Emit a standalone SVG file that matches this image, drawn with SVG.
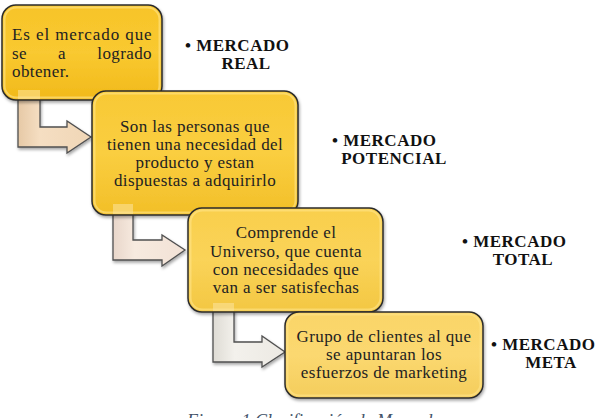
<svg xmlns="http://www.w3.org/2000/svg" width="609" height="418" viewBox="0 0 609 418" font-family="'Liberation Serif', 'Times New Roman', serif">
<defs>
<filter id="sh" x="-10%" y="-10%" width="120%" height="130%">
<feDropShadow dx="1" dy="2" stdDeviation="1.5" flood-color="#000" flood-opacity="0.35"/>
</filter>
<linearGradient id="g1" x1="0" y1="0" x2="0" y2="1">
<stop offset="0" stop-color="#F7C42A"/><stop offset="0.5" stop-color="#F9C930"/><stop offset="1" stop-color="#F1B91A"/>
</linearGradient>
<linearGradient id="g2" x1="0" y1="0" x2="0" y2="1">
<stop offset="0" stop-color="#F8C935"/><stop offset="0.5" stop-color="#FACE40"/><stop offset="1" stop-color="#F2BF28"/>
</linearGradient>
<linearGradient id="g3" x1="0" y1="0" x2="0" y2="1">
<stop offset="0" stop-color="#F9CF4C"/><stop offset="0.5" stop-color="#FAD358"/><stop offset="1" stop-color="#F3C742"/>
</linearGradient>
<linearGradient id="g4" x1="0" y1="0" x2="0" y2="1">
<stop offset="0" stop-color="#FAD568"/><stop offset="0.5" stop-color="#FBD870"/><stop offset="1" stop-color="#F4CD5C"/>
</linearGradient>
<linearGradient id="a1" x1="0" y1="0" x2="1" y2="0">
<stop offset="0" stop-color="#E6C9A6"/><stop offset="0.3" stop-color="#F5DEC2"/><stop offset="1" stop-color="#F0D6B6"/>
</linearGradient>
<linearGradient id="a2" x1="0" y1="0" x2="1" y2="0">
<stop offset="0" stop-color="#E8D6CA"/><stop offset="0.3" stop-color="#F7EADF"/><stop offset="1" stop-color="#F2E2D6"/>
</linearGradient>
<linearGradient id="a3" x1="0" y1="0" x2="1" y2="0">
<stop offset="0" stop-color="#DEDBD4"/><stop offset="0.3" stop-color="#F3F1EC"/><stop offset="1" stop-color="#ECE9E3"/>
</linearGradient>
</defs>
<style>
.box{stroke:#2b2b2b;stroke-width:1.5;filter:url(#sh)}
.rim{fill:none;stroke:#FFE58A;stroke-width:2;opacity:0.6}
.arr{stroke:#505050;stroke-width:1.3;filter:url(#sh)}
.t{font-family:'Liberation Serif',serif;font-size:17px;letter-spacing:0.4px;fill:#222}
.c{text-anchor:middle}
.lab{font-family:'Liberation Serif',serif;font-size:17px;letter-spacing:0.5px;font-weight:bold;fill:#111}
.cap{font-family:'Liberation Serif',serif;font-size:18px;font-style:italic;fill:#44546A}
.sq{fill:#FBE3A0;opacity:0.55}
</style>

<g id="connectors">
<path class="arr" fill="url(#a1)" d="M18,90 L40,90 L40,127 L67,127 L67,121 L91,137 L67,153 L67,147 L18,147 Z"/>
<path class="arr" fill="url(#a2)" d="M113,204 L133,204 L133,240 L162,240 L162,235 L185,250 L162,266 L162,260 L113,260 Z"/>
<path class="arr" fill="url(#a3)" d="M213,303 L234,303 L234,342 L262,342 L262,336 L285,352 L262,367 L262,362 L213,362 Z"/>
</g>

<g id="node1">
<rect class="box" x="2" y="5" width="160" height="95" rx="14" fill="url(#g1)"/>
<rect class="rim" x="4.5" y="7.5" width="155" height="90" rx="12"/>
<rect class="sq" x="18" y="90" width="22" height="9"/>
<text class="t" x="12" y="40" textLength="140" lengthAdjust="spacing">Es el mercado que</text>
<text class="t" x="12" y="59">se</text>
<text class="t" x="58" y="59">a</text>
<text class="t" x="152" y="59" text-anchor="end">logrado</text>
<text class="t" x="12" y="77">obtener.</text>
</g>

<g id="node2">
<rect class="box" x="92" y="91" width="206" height="124" rx="14" fill="url(#g2)"/>
<rect class="rim" x="94.5" y="93.5" width="201" height="119" rx="12"/>
<rect class="sq" x="113" y="204" width="20" height="10"/>
<text class="t c" x="195" y="132">Son las personas que</text>
<text class="t c" x="195" y="150">tienen una necesidad del</text>
<text class="t c" x="195" y="168">producto y estan</text>
<text class="t c" x="195" y="186">dispuestas a adquirirlo</text>
</g>

<g id="node3">
<rect class="box" x="188" y="208" width="195" height="104" rx="14" fill="url(#g3)"/>
<rect class="rim" x="190.5" y="210.5" width="190" height="99" rx="12"/>
<rect class="sq" x="213" y="303" width="21" height="8"/>
<text class="t c" x="286" y="238">Comprende el</text>
<text class="t c" x="286" y="257">Universo, que cuenta</text>
<text class="t c" x="286" y="275">con necesidades que</text>
<text class="t c" x="286" y="293">van a ser satisfechas</text>
</g>

<g id="node4">
<rect class="box" x="285" y="312" width="198" height="86" rx="14" fill="url(#g4)"/>
<rect class="rim" x="287.5" y="314.5" width="193" height="81" rx="12"/>
<text class="t c" x="384" y="342">Grupo de clientes al que</text>
<text class="t c" x="384" y="360">se apuntaran los</text>
<text class="t c" x="384" y="378">esfuerzos de marketing</text>
</g>

<g id="label1">
<text class="lab" x="185" y="51">• MERCADO</text>
<text class="lab c" x="246" y="69">REAL</text>
</g>
<g id="label2">
<text class="lab" x="332" y="146">• MERCADO</text>
<text class="lab c" x="394" y="164">POTENCIAL</text>
</g>
<g id="label3">
<text class="lab" x="462" y="247">• MERCADO</text>
<text class="lab c" x="523" y="265">TOTAL</text>
</g>
<g id="label4">
<text class="lab" x="491" y="350">• MERCADO</text>
<text class="lab c" x="551" y="368">META</text>
</g>

<text class="cap" x="187" y="427">Figura 1 Clasificación de Mercado</text>
</svg>
